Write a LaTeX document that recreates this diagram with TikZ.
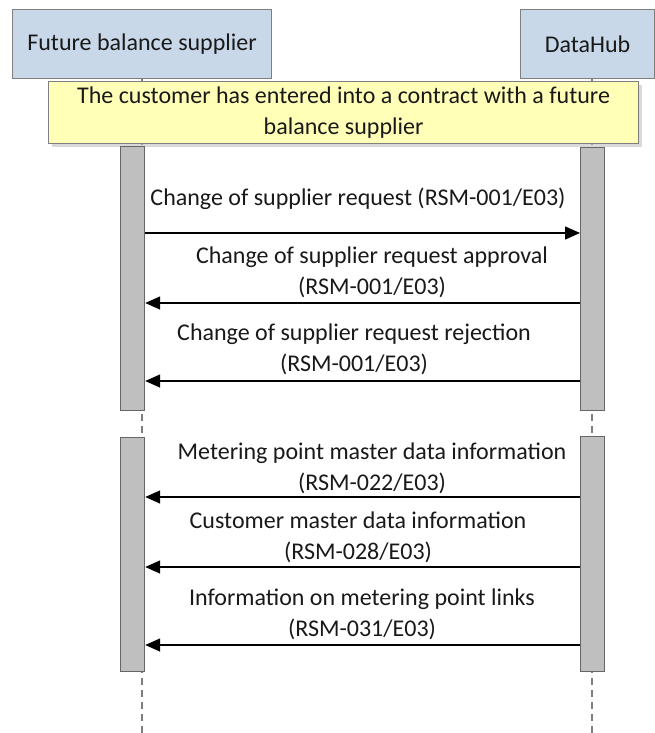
\documentclass[tikz,border=0pt]{standalone}
\usepackage{fontspec}
\setmainfont{Carlito}
\usetikzlibrary{arrows.meta,positioning,calc,shadows}

\definecolor{actorBlue}{HTML}{C8D8E9}
\definecolor{noteYellow}{HTML}{FFFFB8}
\definecolor{barGrey}{HTML}{BFBFBF}
\definecolor{edgeGrey}{HTML}{7F7F7F}

\begin{document}
\begin{tikzpicture}[x=1pt, y=-1pt,
		every node/.style={font=\fontsize{24}{31}\selectfont, inner sep=0pt, text=black!90},
		actorBox/.style={
				draw=edgeGrey, fill=actorBlue, line width=1.2pt,
				anchor=north west, align=center
			},
		noteBox/.style={
				draw=edgeGrey, fill=noteYellow, line width=1.2pt,
				anchor=north west, align=center,
				drop shadow={shadow xshift=3pt, shadow yshift=-3pt, fill=black!25, opacity=0.6}
			},
		activation/.style={
				draw=edgeGrey!80!black, fill=barGrey, line width=1.2pt,
				anchor=north west, minimum width=24pt
			},
		msgLabel/.style={anchor=south, align=center},
		msg/.style={line width=1.5pt, -{Triangle[length=15pt, width=13pt]}},
		lifeline/.style={draw=edgeGrey, line width=1.2pt, dash pattern=on 7pt off 5pt}
	]

	\useasboundingbox (0,0) rectangle (654,733);

	% Lifelines
	\coordinate (lifeTopL) at (142,78);
	\coordinate (lifeBotL) at (142,733);
	\coordinate (lifeTopR) at (592,78);
	\coordinate (lifeBotR) at (592,733);
	\draw[lifeline] (lifeTopL) -- (lifeBotL);
	\draw[lifeline] (lifeTopR) -- (lifeBotR);

	% Participants
	\node[actorBox, minimum width=259pt, minimum height=69pt] (supplier) at (12,9) {Future balance supplier};
	\node[actorBox, minimum width=134pt, minimum height=69pt] (datahub) at (520,9) {DataHub};

	% Note
	\node[noteBox, minimum width=590pt, minimum height=62pt] (note) at (48,81)
	{The customer has entered into a contract with a future\\balance supplier};

	% Activation bars
	\node[activation, minimum height=264pt] (barL1) at (120,146) {};
	\node[activation, minimum height=263pt] (barR1) at (580,147) {};
	\node[activation, minimum height=234pt] (barL2) at (120,437) {};
	\node[activation, minimum height=235pt] (barR2) at (580,436) {};

	% Messages
	\coordinate (m1) at (0,233);
	\coordinate (m2) at (0,303);
	\coordinate (m3) at (0,381);
	\coordinate (m4) at (0,497);
	\coordinate (m5) at (0,567);
	\coordinate (m6) at (0,645);

	\draw[msg] (barL1.east |- m1) -- (barR1.west |- m1);
	\draw[msg] (barR1.west |- m2) -- (barL1.east |- m2);
	\draw[msg] (barR1.west |- m3) -- (barL1.east |- m3);
	\draw[msg] (barR2.west |- m4) -- (barL2.east |- m4);
	\draw[msg] (barR2.west |- m5) -- (barL2.east |- m5);
	\draw[msg] (barR2.west |- m6) -- (barL2.east |- m6);

	\node[msgLabel] (t1) at (358,210) {Change of supplier request (RSM-001/E03)};
	\node[msgLabel] (t2) at (372,298) {Change of supplier request approval\\(RSM-001/E03)};
	\node[msgLabel] (t3) at (354,375) {Change of supplier request rejection\\(RSM-001/E03)};
	\node[msgLabel] (t4) at (372,494) {Metering point master data information\\(RSM-022/E03)};
	\node[msgLabel] (t5) at (358,563) {Customer master data information\\(RSM-028/E03)};
	\node[msgLabel] (t6) at (362,640) {Information on metering point links\\(RSM-031/E03)};
\end{tikzpicture}
\end{document}
